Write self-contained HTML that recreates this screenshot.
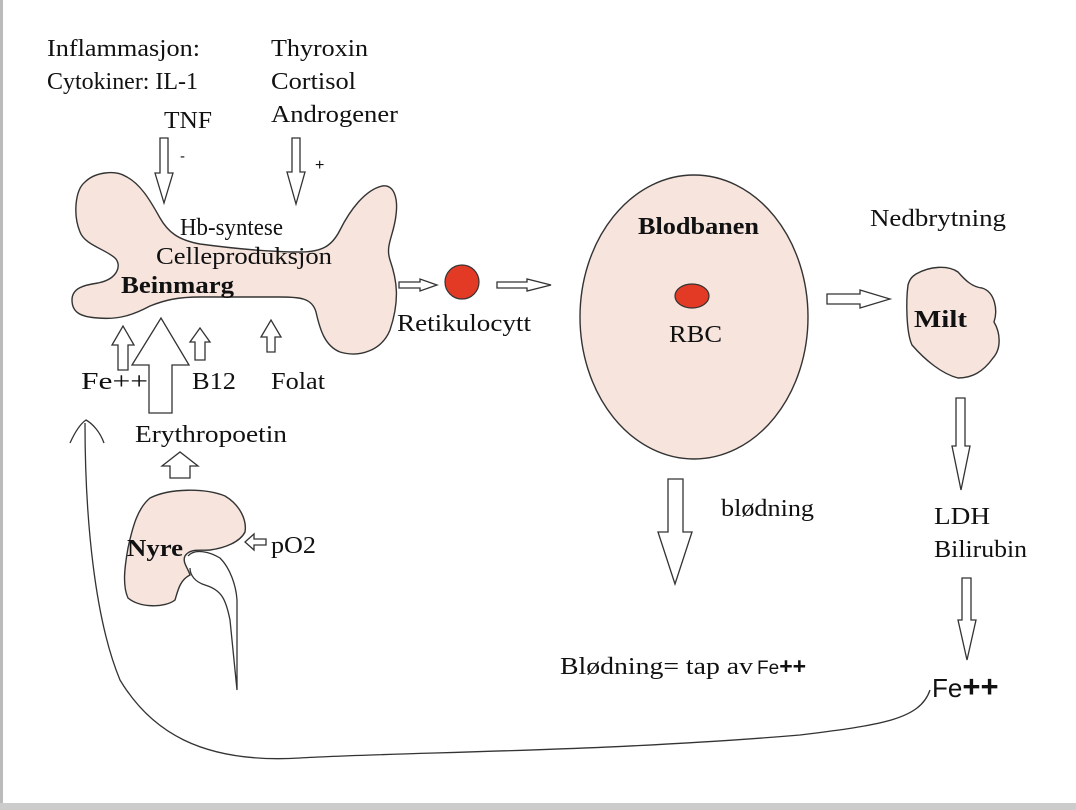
<!DOCTYPE html>
<html><head><meta charset="utf-8"><style>
html,body{margin:0;padding:0;background:#fff;}
svg{display:block;}
text{font-family:"Liberation Serif",serif;font-size:24px;fill:#111;}
.b{font-weight:bold;}
.s{font-family:"Liberation Sans",sans-serif;}
</style></head><body>
<svg width="1076" height="810" viewBox="0 0 1076 810" xmlns="http://www.w3.org/2000/svg">
<rect x="0" y="0" width="1076" height="810" fill="#fff"/>
<rect x="0" y="0" width="3" height="810" fill="#bbb"/>
<rect x="0" y="803" width="1076" height="7" fill="#ccc"/>
<g stroke="#333" stroke-width="1.4" fill="#f6e4dd">
<path d="M85,182 C95,172 115,170 125,176 C140,183 150,200 160,218 C168,232 178,240 200,244 C230,248 265,252 300,252 C322,252 332,246 340,230 C350,210 365,190 382,186 C395,184 398,200 396,215 C394,235 385,245 390,260 C397,280 400,300 390,330 C382,350 360,358 340,352 C325,346 320,330 316,312 C312,298 300,297 280,297 L200,297 C178,297 165,300 150,306 C135,314 120,320 98,318 C80,317 72,312 72,300 C72,288 84,285 98,283 C118,279 122,265 115,258 C105,249 85,245 80,232 C73,215 75,190 85,182 Z"/>
<ellipse cx="694" cy="317" rx="114" ry="142"/>
<path d="M916,274 C930,266 948,265 958,272 C965,280 972,287 982,288 C995,292 998,310 994,322 C1000,332 1002,348 993,358 C983,372 972,378 958,378 C942,374 925,360 912,345 C906,332 906,300 908,285 C910,278 913,276 916,274 Z"/>
<path d="M150,498 C170,488 205,488 225,496 C240,505 247,520 245,532 C240,542 225,548 210,550 C200,551 190,548 185,556 C182,562 188,568 190,575 C180,580 178,590 175,600 C165,608 140,608 128,598 C122,585 125,565 128,548 C133,525 138,508 150,498 Z"/>
</g>
<path d="M188,556 C195,548 210,552 220,558 C230,568 236,585 237,600 L237,690 L230,620 C226,600 222,590 205,585 C195,582 190,575 190,568" fill="#fff" stroke="#333" stroke-width="1.3"/>
<circle cx="462" cy="282" r="17" fill="#e33a25" stroke="#333" stroke-width="1.2"/>
<ellipse cx="692" cy="296" rx="17" ry="12" fill="#e33a25" stroke="#333" stroke-width="1.2"/>
<g fill="#fff" stroke="#333" stroke-width="1.3">
<path d="M160,138 L168,138 L168,173 L173,173 L164,203 L155,173 L160,173 Z"/>
<path d="M292,138 L300,138 L300,172 L305,172 L296,204 L287,172 L292,172 Z"/>
<path d="M118,370 L128,370 L128,345 L134,345 L123,326 L112,345 L118,345 Z"/>
<path d="M149,413 L172,413 L172,365 L189,365 L161,318 L132,365 L149,365 Z"/>
<path d="M195,360 L205,360 L205,342 L210,342 L200,328 L190,342 L195,342 Z"/>
<path d="M267,352 L275,352 L275,337 L281,337 L271,320 L261,337 L267,337 Z"/>
<path d="M170,478 L190,478 L190,466 L198,466 L180,452 L162,466 L170,466 Z"/>
<path d="M266,539 L254,539 L254,534 L245,542 L254,550 L254,545 L266,545 Z"/>
<path d="M399,282 L420,282 L420,279 L437,285 L420,291 L420,288 L399,288 Z"/>
<path d="M497,282 L527,282 L527,279 L551,285 L527,291 L527,288 L497,288 Z"/>
<path d="M827,294 L860,294 L860,290 L890,299 L860,308 L860,304 L827,304 Z"/>
<path d="M668,479 L683,479 L683,532 L692,532 L675,584 L658,532 L668,532 Z"/>
<path d="M956,398 L965,398 L965,446 L970,446 L961,490 L952,446 L956,446 Z"/>
<path d="M962,578 L971,578 L971,620 L976,620 L967,660 L958,620 L962,620 Z"/>
</g>
<path d="M930,690 C920,720 880,725 800,735 C600,752 400,752 300,758 C200,764 150,730 120,680 C95,620 85,520 85,423" fill="none" stroke="#333" stroke-width="1.3"/>
<path d="M70,443 C75,432 80,424 86,420 C93,424 100,432 104,443" fill="none" stroke="#333" stroke-width="1.3"/>
<text x="47" y="56" textLength="153" lengthAdjust="spacingAndGlyphs">Inflammasjon:</text>
<text x="47" y="89" textLength="151" lengthAdjust="spacingAndGlyphs">Cytokiner: IL-1</text>
<text x="164" y="128" textLength="48" lengthAdjust="spacingAndGlyphs">TNF</text>
<text x="180" y="161" class="s" style="font-size:15px">-</text>
<text x="271" y="56" textLength="97" lengthAdjust="spacingAndGlyphs">Thyroxin</text>
<text x="271" y="89" textLength="85" lengthAdjust="spacingAndGlyphs">Cortisol</text>
<text x="271" y="122" textLength="127" lengthAdjust="spacingAndGlyphs">Androgener</text>
<text x="315" y="170" class="s" style="font-size:16px">+</text>
<text x="180" y="235" textLength="103" lengthAdjust="spacingAndGlyphs">Hb-syntese</text>
<text x="156" y="264" textLength="176" lengthAdjust="spacingAndGlyphs">Celleproduksjon</text>
<text x="121" y="293" class="b" textLength="113" lengthAdjust="spacingAndGlyphs">Beinmarg</text>
<text x="81" y="389" textLength="67" lengthAdjust="spacingAndGlyphs">Fe++</text>
<text x="192" y="389" textLength="44" lengthAdjust="spacingAndGlyphs">B12</text>
<text x="271" y="389" textLength="54" lengthAdjust="spacingAndGlyphs">Folat</text>
<text x="135" y="442" textLength="152" lengthAdjust="spacingAndGlyphs">Erythropoetin</text>
<text x="127" y="556" class="b" textLength="56" lengthAdjust="spacingAndGlyphs">Nyre</text>
<text x="271" y="553" textLength="45" lengthAdjust="spacingAndGlyphs">pO2</text>
<text x="397" y="331" textLength="134" lengthAdjust="spacingAndGlyphs">Retikulocytt</text>
<text x="638" y="234" class="b" textLength="121" lengthAdjust="spacingAndGlyphs">Blodbanen</text>
<text x="669" y="342" textLength="53" lengthAdjust="spacingAndGlyphs">RBC</text>
<text x="870" y="226" textLength="136" lengthAdjust="spacingAndGlyphs">Nedbrytning</text>
<text x="914" y="327" class="b" textLength="53" lengthAdjust="spacingAndGlyphs">Milt</text>
<text x="721" y="516" textLength="93" lengthAdjust="spacingAndGlyphs">blødning</text>
<text x="934" y="524" textLength="56" lengthAdjust="spacingAndGlyphs">LDH</text>
<text x="934" y="557" textLength="93" lengthAdjust="spacingAndGlyphs">Bilirubin</text>
<text x="560" y="674" textLength="193" lengthAdjust="spacingAndGlyphs">Blødning= tap av</text>
<text x="757" y="674" style="font-family:'Liberation Sans',sans-serif;font-size:19px">Fe<tspan style="font-size:23px;font-weight:bold">++</tspan></text>
<text x="932" y="697" style="font-family:'Liberation Sans',sans-serif;font-size:26px">Fe<tspan style="font-size:31px;font-weight:bold">++</tspan></text>
</svg>
</body></html>
